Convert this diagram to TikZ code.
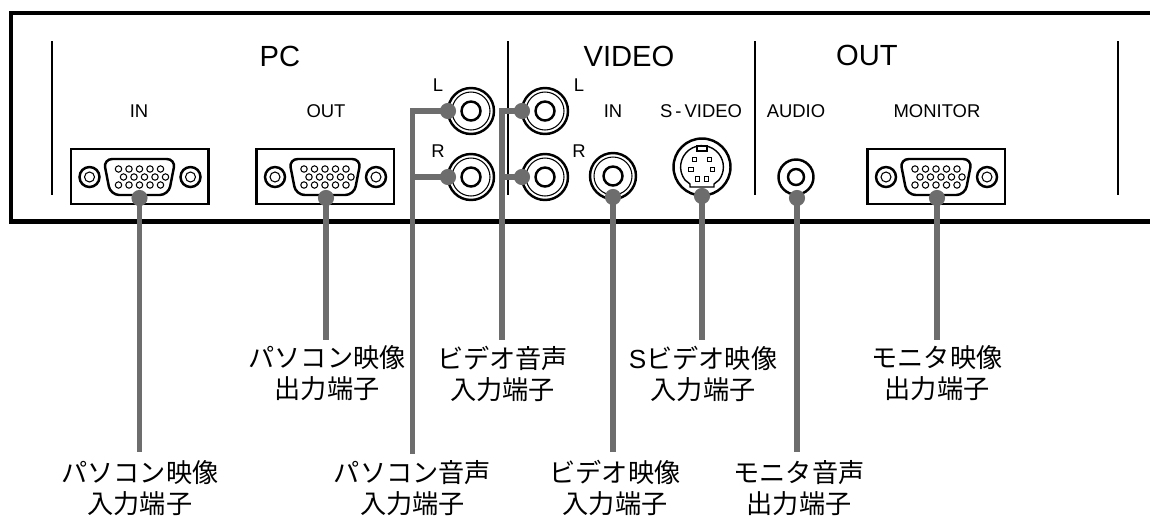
\documentclass[tikz,border=0pt]{standalone}
\usepackage{fontspec}
\setmainfont{Liberation Sans}
\newfontfamily\jpfont{Noto Sans CJK JP}
\definecolor{leadgray}{HTML}{6D6D6D}

\tikzset{
  bigtext/.style={font=\fontsize{16.6}{18}\selectfont, inner sep=0pt},
  smalltext/.style={font=\fontsize{10.5}{12}\selectfont, inner sep=0pt},
  jptext/.style={font=\fontsize{14.9}{17.6}\selectfont\jpfont, align=center, inner sep=0pt, anchor=north},
  panelline/.style={line width=2.4pt, draw=black},
  divider/.style={line width=1.3pt, draw=black},
  portline/.style={line width=1.4pt, draw=black},
  portthin/.style={line width=0.6pt, draw=black},
  portdot/.style={circle, fill=leadgray, minimum size=9.2pt, inner sep=0pt},
  lead/.style={line width=2.9pt, draw=leadgray}
}

% VGA socket with its two screws
\newcommand{\vgaport}[2]{
  \draw[portline] (#1-68.5,#2-28) rectangle (#1+69,#2+27);
  \foreach \sx in {-50,51} {
    \draw[portline] (#1+\sx,#2) circle (10);
    \draw[portthin] (#1+\sx,#2) circle (5);
  }
  \draw[portline, rounded corners=5pt] (#1-36,#2-18) -- (#1+36,#2-18) -- (#1+29,#2+18) -- (#1-29,#2+18) -- cycle;
  \foreach \px in {-21,-10.5,0,10.5,21} {
    \draw[portthin] (#1+\px,#2-8) circle (3.2);
    \draw[portthin] (#1+\px,#2+8) circle (3.2);
    \draw[portthin] (#1+\px+5,#2) circle (3.2);
  }
}

% RCA jack
\newcommand{\rcaport}[2]{
  \draw[portline] (#1,#2) circle (23);
  \draw[portthin] (#1,#2) circle (19);
  \draw[portline] (#1,#2) circle (9.5);
}

\begin{document}
\begin{tikzpicture}[x=0.02cm, y=-0.02cm]
\useasboundingbox (0,0) rectangle (1150,515);

% Rear panel, open on the right
\draw[panelline] (1150,13) -- (11,13) -- (11,221.5) -- (1150,221.5);

% Dividers
\foreach \dx in {52,508,755,1118} {
  \draw[divider] (\dx,41) -- (\dx,194.5);
}

% Group titles
\node[bigtext] (titlePC) at (280,56) {PC};
\node[bigtext] (titleVideo) at (629,56) {VIDEO};
\node[bigtext] (titleOut) at (867,55) {OUT};

% Port captions
\node[smalltext] (capIn) at (139,111) {IN};
\node[smalltext] (capOut) at (326,111) {OUT};
\node[smalltext] (capL) at (438,85) {L};
\node[smalltext] (capR) at (438,151) {R};
\node[smalltext] (capVidL) at (579,85) {L};
\node[smalltext] (capVidR) at (579,151) {R};
\node[smalltext] (capVidIn) at (613,111) {IN};
\node[smalltext] (capSVideo) at (701,111) {S\,-\,VIDEO};
\node[smalltext] (capAudio) at (796,111) {AUDIO};
\node[smalltext] (capMonitor) at (937,111) {MONITOR};

% Sockets
\vgaport{139.5}{177}
\vgaport{325}{177}
\vgaport{936}{177}
\rcaport{471}{111}
\rcaport{471}{177}
\rcaport{545}{111}
\rcaport{545}{177}
\rcaport{613}{176}

% S-video socket
\draw[portline] (702,167) circle (28.5);
\draw[portthin, line width=0.8pt] (702,167) ++(-17,13) arc (142.6:397.4:21.4) -- ++(-5,4) -- ++(0,3) -- ++(-24,0) -- ++(0,-3) -- cycle;
\draw[portthin] (697,146) rectangle (707,151);
\foreach \sx/\sy in {694.5/159.5,709.5/159.5,691/169.5,712.5/169.5,697.5/179,706.5/179} {
  \draw[portthin] (\sx-2.2,\sy-2.2) rectangle (\sx+2.2,\sy+2.2);
}

% Audio out socket
\draw[portline] (796,177) circle (17.5);
\draw[portline] (796,177) circle (8);

% Bottom labels
\node[jptext] (lblPcIn) at (140,460) {パソコン映像\\入力端子};
\node[jptext] (lblPcOut) at (327,345.5) {パソコン映像\\出力端子};
\node[jptext] (lblPcAudio) at (412.5,460) {パソコン音声\\入力端子};
\node[jptext] (lblVidAudio) at (502.5,345.5) {ビデオ音声\\入力端子};
\node[jptext] (lblVidIn) at (615,460) {ビデオ映像\\入力端子};
\node[jptext] (lblSVideo) at (703,345.5) {{\fontspec{Liberation Sans}S}ビデオ映像\\入力端子};
\node[jptext] (lblAudio) at (799,460) {モニタ音声\\出力端子};
\node[jptext] (lblMonitor) at (937,345.5) {モニタ映像\\出力端子};

% Dots on the sockets
\node[portdot] (dotPcIn) at (139.5,198) {};
\node[portdot] (dotPcOut) at (326,198) {};
\node[portdot] (dotPcL) at (448,111) {};
\node[portdot] (dotPcR) at (448,177) {};
\node[portdot] (dotVidL) at (522,111) {};
\node[portdot] (dotVidR) at (522,177) {};
\node[portdot] (dotVidIn) at (613,197) {};
\node[portdot] (dotSVideo) at (702,196) {};
\node[portdot] (dotAudio) at (797,198) {};
\node[portdot] (dotMonitor) at (937,198) {};

% Free ends of the leads
\coordinate (endPcIn) at (139.5,452);
\coordinate (endPcOut) at (326,340);
\coordinate (endPcAudio) at (412.5,454);
\coordinate (endVidAudio) at (502,340);
\coordinate (endVidIn) at (613,452);
\coordinate (endSVideo) at (702,340);
\coordinate (endAudio) at (797,452);
\coordinate (endMonitor) at (937,340);

% Leads
\draw[lead] (dotPcIn.center) -- (endPcIn);
\draw[lead] (dotPcOut.center) -- (endPcOut);
\draw[lead] (dotPcL.center) -| (endPcAudio);
\draw[lead] (dotPcR.center) -| (endPcAudio);
\draw[lead] (dotVidL.center) -| (endVidAudio);
\draw[lead] (dotVidR.center) -| (endVidAudio);
\draw[lead] (dotVidIn.center) -- (endVidIn);
\draw[lead] (dotSVideo.center) -- (endSVideo);
\draw[lead] (dotAudio.center) -- (endAudio);
\draw[lead] (dotMonitor.center) -- (endMonitor);

\end{tikzpicture}
\end{document}
